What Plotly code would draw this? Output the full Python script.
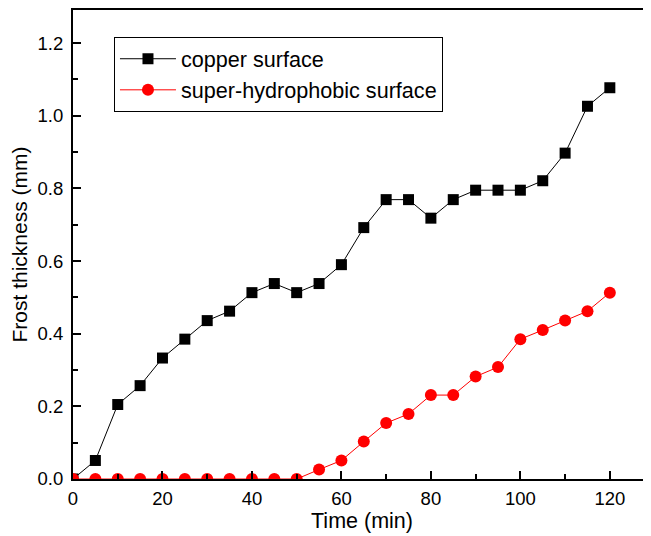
import plotly.graph_objects as go

time_min = [0, 5, 10, 15, 20, 25, 30, 35, 40, 45, 50, 55, 60, 65, 70, 75, 80, 85, 90, 95, 100, 105, 110, 115, 120]
copper = [0.0, 0.051, 0.205, 0.257, 0.333, 0.385, 0.436, 0.462, 0.513, 0.538, 0.513, 0.538, 0.590,
          0.692, 0.769, 0.769, 0.718, 0.769, 0.795, 0.795, 0.795, 0.821, 0.897, 1.026, 1.077]
superhydro = [0.0, 0.0, 0.0, 0.0, 0.0, 0.0, 0.0, 0.0, 0.0, 0.0, 0.0, 0.026, 0.051,
              0.103, 0.154, 0.179, 0.231, 0.231, 0.282, 0.308, 0.385, 0.410, 0.436, 0.462, 0.513]

font_family = "Arial, Liberation Sans, Helvetica, sans-serif"

fig = go.Figure()
fig.add_trace(go.Scatter(
    x=time_min, y=copper, name="copper surface", mode="lines+markers",
    line=dict(color="black", width=1),
    marker=dict(symbol="square", size=11, color="black"),
))
fig.add_trace(go.Scatter(
    x=time_min, y=superhydro, name="super-hydrophobic surface", mode="lines+markers",
    line=dict(color="red", width=1),
    marker=dict(symbol="circle", size=12, color="red"),
))

# the page body adds an 8px offset, so the figure is sized to fill the window exactly
fig.update_layout(
    width=643, height=528,
    margin=dict(l=65, r=0, t=2, b=57, autoexpand=False),
    paper_bgcolor="white", plot_bgcolor="white",
    font=dict(family=font_family, size=18.5, color="black"),
    legend=dict(
        x=0.0709, y=0.942, xanchor="left", yanchor="top",
        bordercolor="black", borderwidth=1, bgcolor="white",
        font=dict(size=21.6), itemwidth=56, tracegroupgap=0,
    ),
    xaxis=dict(
        range=[0, 129.2], showgrid=False, zeroline=False, automargin=False,
        showline=True, linecolor="black", linewidth=2, mirror=True,
        ticks="inside", ticklen=8, tickwidth=1.5, tickcolor="black",
        tick0=0, dtick=20, ticklabelstandoff=2,
        minor=dict(ticks="inside", ticklen=5, tickwidth=1.5, tickcolor="black", dtick=10),
        title=dict(text="Time (min)", font=dict(size=21.5), standoff=4),
    ),
    yaxis=dict(
        range=[0, 1.291], showgrid=False, zeroline=False, automargin=False,
        showline=True, linecolor="black", linewidth=2,
        ticks="inside", ticklen=8, tickwidth=1.5, tickcolor="black",
        tick0=0, dtick=0.2, tickformat=".1f", ticklabelstandoff=4,
        minor=dict(ticks="inside", ticklen=5, tickwidth=1.5, tickcolor="black", dtick=0.1),
        title=dict(text="Frost thickness (mm)", font=dict(size=21), standoff=6),
    ),
)

fig.write_html("out.html")
